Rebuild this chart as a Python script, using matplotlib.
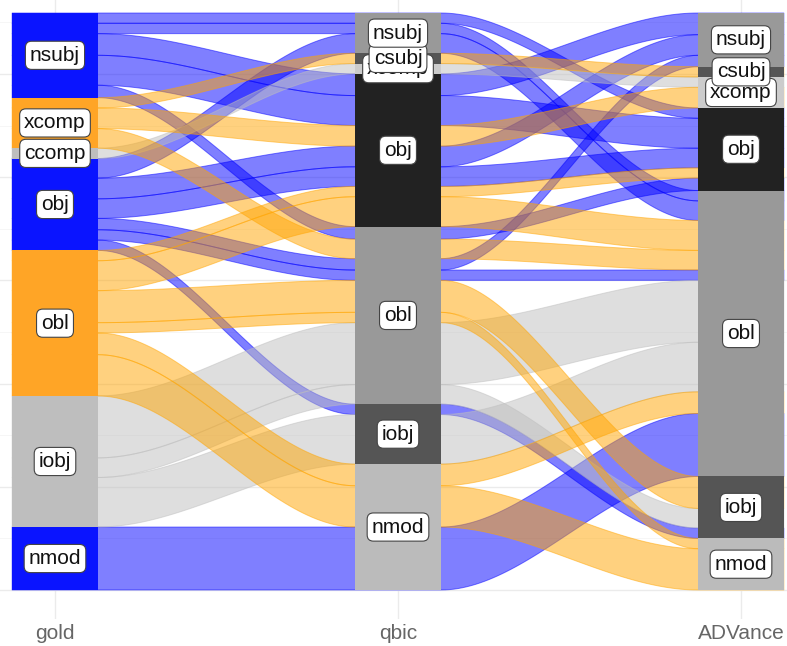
import numpy as np
import matplotlib.pyplot as plt
from matplotlib.patches import Polygon, Rectangle

plt.rcParams['font.family'] = ['Liberation Sans', 'DejaVu Sans']

axis_names = ['gold', 'qbic', 'ADVance']
levels = ['nsubj', 'csubj', 'xcomp', 'ccomp', 'obj', 'obl', 'iobj', 'nmod']

# one entry per alluvium: relation in gold / qbic / ADVance and its size
gold = ['nsubj', 'nsubj', 'nsubj', 'nsubj', 'nsubj',
        'xcomp', 'xcomp', 'xcomp',
        'ccomp',
        'obj', 'obj', 'obj', 'obj', 'obj', 'obj',
        'obl', 'obl', 'obl', 'obl', 'obl', 'obl',
        'iobj', 'iobj', 'iobj',
        'nmod']
qbic = ['nsubj', 'nsubj', 'obj', 'obj', 'obl',
        'csubj', 'obj', 'obl',
        'xcomp',
        'nsubj', 'obj', 'obj', 'obl', 'obl', 'iobj',
        'obj', 'obj', 'obl', 'obl', 'nmod', 'nmod',
        'obl', 'obl', 'iobj',
        'nmod']
advance = ['obj', 'obl', 'nsubj', 'obj', 'obj',
           'csubj', 'xcomp', 'obl',
           'xcomp',
           'obl', 'nsubj', 'obj', 'nsubj', 'obl', 'iobj',
           'obj', 'obl', 'iobj', 'nmod', 'obl', 'nmod',
           'obl', 'iobj', 'obl',
           'obl']
count = [10, 10, 21, 29, 12,
         10, 20, 19,
         10,
         19, 20, 19, 11, 10, 10,
         10, 29, 31, 10, 21, 40,
         60, 19, 48,
         61]

# colours
flow_col = {'nsubj': '#0000ff', 'obj': '#0000ff', 'nmod': '#0000ff',
            'xcomp': '#ffa500', 'obl': '#ffa500',
            'ccomp': '#bebebe', 'iobj': '#bebebe'}
gold_strat = {'nsubj': '#0a14ff', 'obj': '#0a14ff', 'nmod': '#0a14ff',
              'xcomp': '#ffa526', 'obl': '#ffa526',
              'ccomp': '#bebebe', 'iobj': '#bebebe'}
gray_strat = {'nsubj': '#999999', 'csubj': '#555555', 'xcomp': '#cccccc',
              'obj': '#222222', 'obl': '#999999', 'iobj': '#555555',
              'nmod': '#bbbbbb'}

cols = [gold, qbic, advance]
n = len(count)
T = sum(count)
w = 0.25
xs = [1, 2, 3]
rank = {l: i for i, l in enumerate(levels)}

# zigzag lode ordering, like ggalluvial
orders = [(0, 1, 2), (1, 0, 2), (2, 1, 0)]
ytop = np.zeros((n, 3))
for k in range(3):
    idx = sorted(range(n), key=lambda i: tuple(rank[cols[j][i]] for j in orders[k]))
    cum = 0
    for i in idx:
        ytop[i, k] = T - cum
        cum += count[i]

# figure laid out in pixels like the original
W, H = 787, 646
fig = plt.figure(figsize=(W / 100, H / 100), dpi=100)
px_x0, px_dx = 55, 343          # gold axis position, axis spacing
px_y0, px_top = 590, 13          # y of value 0 and of value T
sy = (px_y0 - px_top) / T
left = px_x0 - 0.6 * px_dx
bottom = px_y0 + 0.05 * T * sy
top = px_top - 0.05 * T * sy
ax = fig.add_axes([left / W, 1 - bottom / H, 3.2 * px_dx / W, (bottom - top) / H])
ax.set_xlim(0.4, 3.6)
ax.set_ylim(-0.05 * T, 1.05 * T)


def ribbon(ys):
    px, py = [], []
    for k in range(3):
        px += [xs[k] - w / 2, xs[k] + w / 2]
        py += [ys[k], ys[k]]
        if k < 2:
            t = np.linspace(0, 1, 60)[1:-1]
            s = 3 * t ** 2 - 2 * t ** 3
            px += list(xs[k] + w / 2 + t * (1 - w))
            py += list(ys[k] + (ys[k + 1] - ys[k]) * s)
    return np.array(px), np.array(py)


# draw blue first, then grey, orange on top
draw_rank = {'#0000ff': 0, '#bebebe': 1, '#ffa500': 2}
for i in sorted(range(n), key=lambda i: draw_rank[flow_col[gold[i]]]):
    ux, uy = ribbon(ytop[i])
    lx, ly = ribbon(ytop[i] - count[i])
    pts = np.column_stack([np.r_[ux, lx[::-1]], np.r_[uy, ly[::-1]]])
    c = flow_col[gold[i]]
    ax.add_patch(Polygon(pts, closed=True, facecolor=c, edgecolor=c,
                         alpha=0.5, lw=0.7, zorder=2))

# strata and labels
for k in range(3):
    tot = {}
    for i in range(n):
        tot[cols[k][i]] = tot.get(cols[k][i], 0) + count[i]
    present = [l for l in levels if l in tot]
    cum = 0
    boxes = []
    for l in present:
        y1 = T - cum
        y0 = y1 - tot[l]
        fc = gold_strat[l] if k == 0 else gray_strat[l]
        ax.add_patch(Rectangle((xs[k] - w / 2, y0), w, tot[l], facecolor=fc,
                               edgecolor='none', zorder=3))
        boxes.append((l, (y0 + y1) / 2))
        cum += tot[l]
    for l, yc in reversed(boxes):
        ax.text(xs[k], yc, l, ha='center', va='center', fontsize=15, color='#111111',
                zorder=5,
                bbox=dict(boxstyle='round,pad=0.22,rounding_size=0.3', fc='white',
                          ec='#444444', lw=0.8))

ax.set_xticks(xs)
ax.set_xticklabels(axis_names)
ax.set_yticks(np.arange(0, 501, 100))
ax.set_yticks(np.arange(50, 551, 100), minor=True)
ax.set_yticklabels([])
ax.tick_params(axis='x', length=0, pad=4, labelsize=15, labelcolor='#666666')
ax.tick_params(axis='y', which='both', length=0)
ax.grid(True, which='major', color='#ebebeb', lw=1.0)
ax.grid(True, which='minor', axis='y', color='#f3f3f3', lw=0.5)
ax.set_axisbelow(True)
for s in ax.spines.values():
    s.set_visible(False)

fig.savefig('out.png', dpi=100)
